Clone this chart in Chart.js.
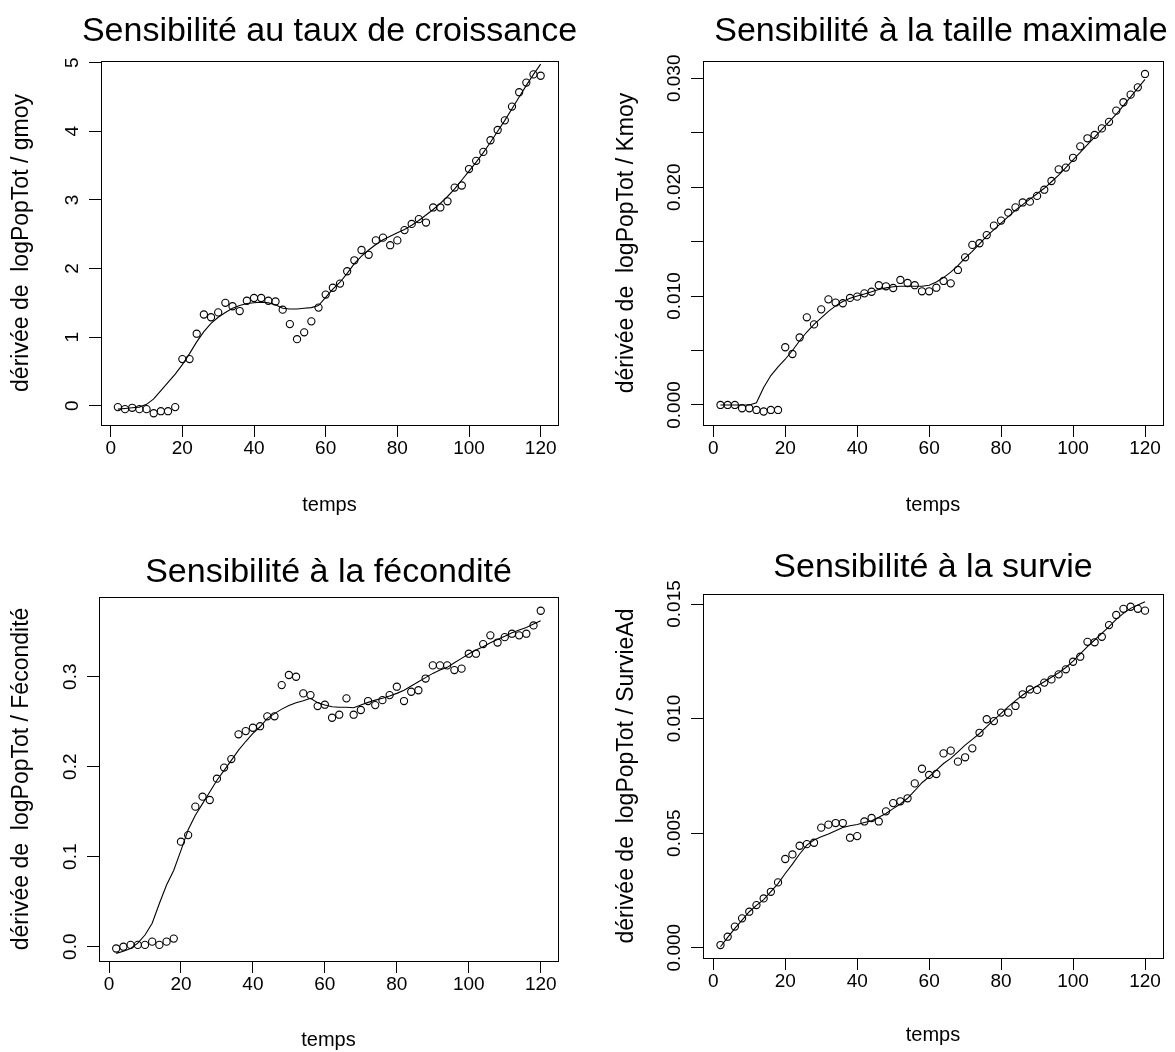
<!DOCTYPE html>
<html><head><meta charset="utf-8">
<script src="https://cdn.jsdelivr.net/npm/chart.js@4/dist/chart.umd.min.js"></script>
<style>
html,body{margin:0;padding:0;background:#fff;}
body{width:1175px;height:1052px;position:relative;overflow:hidden;}
canvas{position:absolute;}
</style></head>
<body>
<canvas id="c1"></canvas><canvas id="c2"></canvas><canvas id="c3"></canvas><canvas id="c4"></canvas>
<script>
// ---------- DATA ----------
const temps = [2,4,6,8,10,12,14,16,18,20,22,24,26,28,30,32,34,36,38,40,42,44,46,48,50,52,54,56,58,60,
  62,64,66,68,70,72,74,76,78,80,82,84,86,88,90,92,94,96,98,100,102,104,106,108,110,112,114,116,118,120];
const xTickValues = [0,20,40,60,80,100,120];
const xTickLabels = ['0','20','40','60','80','100','120'];

const gmoyPoints = [-0.02,-0.05,-0.03,-0.05,-0.05,-0.11,-0.08,-0.08,-0.02,
  0.68,0.68,1.05,1.33,1.29,1.36,1.50,1.45,1.38,1.53,1.57,1.57,1.53,1.52,1.40,1.19,0.97,1.07,1.23,1.43,1.62,
  1.72,1.78,1.96,2.12,2.27,2.20,2.41,2.45,2.34,2.41,2.56,2.65,2.72,2.67,2.89,2.89,2.98,3.18,3.21,3.45,
  3.57,3.70,3.87,4.02,4.16,4.36,4.57,4.71,4.83,4.81];
const gmoyLoess = [-0.05,-0.04,-0.03,-0.02,0.02,0.10,0.22,0.34,0.46,
  0.60,0.76,0.93,1.08,1.20,1.29,1.36,1.42,1.46,1.49,1.50,1.51,1.50,1.47,1.42,1.41,1.41,1.42,1.43,1.46,1.58,
  1.70,1.80,1.93,2.07,2.18,2.27,2.35,2.42,2.47,2.52,2.57,2.63,2.70,2.78,2.86,2.95,3.05,3.16,3.29,3.42,
  3.55,3.69,3.84,4.00,4.16,4.33,4.50,4.67,4.83,4.98];
const gmoyTickValues = [0,1,2,3,4,5];
const gmoyTickLabels = ['0','1','2','3','4','5'];

const kmoyPoints = [0.0000,0.0000,0.0000,-0.0003,-0.0003,-0.00046,-0.0006,-0.00046,-0.00046,
  0.0053,0.00468,0.0062,0.00805,0.0074,0.00878,0.0097,0.0094,0.00934,0.00983,0.00995,0.01025,0.0104,0.0110,0.0109,0.01074,0.01148,0.0112,0.0110,0.01044,0.01044,
  0.01077,0.01139,0.01117,0.0124,0.01356,0.0147,0.01485,0.0156,0.01647,0.01693,0.01766,0.01815,0.0186,0.01867,0.0192,0.01977,0.02057,0.02164,0.0218,0.0227,
  0.02375,0.02449,0.0248,0.0254,0.0260,0.02703,0.0278,0.0285,0.02917,0.0304];
const kmoyLoess = [0,0,0,0,0,0.0002,0.0016,0.0027,0.0035,
  0.0042,0.0050,0.0059,0.0067,0.0074,0.0080,0.0086,0.0091,0.0095,0.0098,0.0100,0.0102,0.0104,0.0106,0.01075,0.01085,0.0109,0.0109,0.0109,0.0109,0.0110,
  0.0113,0.0117,0.0122,0.0128,0.0135,0.0141,0.0148,0.0155,0.0161,0.0167,0.0173,0.0179,0.0184,0.0189,0.0194,0.0199,0.0205,0.0211,0.0218,0.0225,
  0.0232,0.0239,0.0246,0.0253,0.0260,0.0267,0.0275,0.0283,0.0291,0.0299];
const kmoyTickValues = [0,0.005,0.010,0.015,0.020,0.025,0.030];
const kmoyTickLabels = ['0.000','','0.010','','0.020','','0.030'];

const fecPoints = [-0.002,0.000,0.002,0.002,0.002,0.0056,0.002,0.0056,0.009,
  0.1167,0.124,0.1556,0.1667,0.163,0.1867,0.199,0.2085,0.236,0.2396,0.2433,0.245,0.256,0.256,0.2907,0.3019,0.300,0.2815,0.2796,0.2674,0.2689,
  0.2544,0.2578,0.276,0.2578,0.263,0.273,0.2685,0.274,0.2796,0.2889,0.273,0.2833,0.285,0.298,0.3126,0.3126,0.3126,0.3074,0.309,0.3256,
  0.3256,0.3363,0.346,0.338,0.344,0.3478,0.346,0.3478,0.357,0.3733];
const fecLoess = [-0.0074,-0.005,-0.002,0.004,0.013,0.026,0.048,0.0685,0.085,
  0.107,0.13,0.146,0.159,0.172,0.185,0.196,0.207,0.2185,0.228,0.237,0.2444,0.2537,0.259,0.264,0.268,0.271,0.2733,0.276,0.271,0.2685,
  0.2667,0.266,0.266,0.2655,0.2685,0.2715,0.274,0.276,0.2785,0.2815,0.285,0.2896,0.2944,0.299,0.3037,0.3074,0.3104,0.3156,0.3204,0.3252,
  0.3296,0.3333,0.3378,0.3415,0.345,0.349,0.352,0.3548,0.3585,0.3622];
const fecTickValues = [0,0.1,0.2,0.3];
const fecTickLabels = ['0.0','0.1','0.2','0.3'];

const survPoints = [0.000116,0.00048,0.00092,0.00128,0.00157,0.00186,0.00215,0.00244,0.00285,
  0.00387,0.00407,0.00445,0.00452,0.00458,0.00524,0.00537,0.00544,0.00544,0.00480,0.00487,0.00551,0.00566,0.00551,0.00595,0.00631,0.00639,0.00652,0.00717,0.00781,0.00754,
  0.00758,0.00848,0.0086,0.00812,0.00831,0.0087,0.00938,0.00997,0.00989,0.01026,0.01026,0.01055,0.01106,0.01127,0.01125,0.01157,0.01171,0.01193,0.01215,0.01248,
  0.0127,0.01335,0.01333,0.01357,0.01408,0.01452,0.01479,0.01488,0.01479,0.01471];
const survLoess = [0.00004,0.00045,0.00084,0.0012,0.00157,0.00185,0.0021,0.00245,0.0028,
  0.00324,0.00365,0.00409,0.00448,0.0047,0.00484,0.00496,0.0051,0.00525,0.00532,0.00538,0.00546,0.00554,0.00569,0.00586,0.00607,0.00627,0.00652,0.00685,0.0072,0.00746,
  0.00775,0.00804,0.00826,0.00855,0.00884,0.00909,0.00935,0.00965,0.00994,0.01023,0.01052,0.01078,0.01103,0.01125,0.01142,0.01161,0.0118,0.0120,0.01223,0.01251,
  0.01282,0.01314,0.01343,0.01372,0.01401,0.01433,0.01459,0.01481,0.01496,0.0151];
const survTickValues = [0,0.005,0.010,0.015];
const survTickLabels = ['0.000','0.005','0.010','0.015'];

const titles = ['Sensibilité au taux de croissance','Sensibilité à la taille maximale','Sensibilité à la fécondité','Sensibilité à la survie'];
const yLabels = ['dérivée de  logPopTot / gmoy','dérivée de  logPopTot / Kmoy','dérivée de  logPopTot / Fécondité','dérivée de  logPopTot / SurvieAd'];
const xLabel = 'temps';

// ---------- LAYOUT ----------
const FONT = "'Liberation Sans', Arial, Helvetica, sans-serif";
const TICK_SIZE = 19, XLAB_SIZE = 20, YLAB_SIZE = 23, TITLE_SIZE = 34;
const panels = [
  {id:'c1', cx:0,   cy:0,   w:587, h:526, box:{l:101,t:61,r:558,b:425}, xmin:-2.71, xmax:124.84, ymin:-0.281, ymax:5.025,
   pts:gmoyPoints, fit:gmoyLoess, yt:gmoyTickValues, yl:gmoyTickLabels, titleY:41, titleDX:0, xtPad:9, ytX:22},
  {id:'c2', cx:587, cy:0,   w:588, h:526, box:{l:116,t:61,r:576,b:425}, xmin:-2.86, xmax:125.0, ymin:-0.00184, ymax:0.03159,
   pts:kmoyPoints, fit:kmoyLoess, yt:kmoyTickValues, yl:kmoyTickLabels, titleY:41, titleDX:8, xtPad:9, ytX:40},
  {id:'c3', cx:0,   cy:526, w:587, h:526, box:{l:99,t:71,r:558,b:435}, xmin:-2.78, xmax:124.8, ymin:-0.0159, ymax:0.3886,
   pts:fecPoints, fit:fecLoess, yt:fecTickValues, yl:fecTickLabels, titleY:56, titleDX:0, xtPad:0, ytX:22},
  {id:'c4', cx:587, cy:526, w:588, h:526, box:{l:116,t:68,r:576,b:432}, xmin:-2.86, xmax:125.0, ymin:-0.00045, ymax:0.015437,
   pts:survPoints, fit:survLoess, yt:survTickValues, yl:survTickLabels, titleY:51, titleDX:0, xtPad:5, ytX:40}
];

const mctx = document.createElement('canvas').getContext('2d');
mctx.font = TICK_SIZE + 'px ' + FONT;
function widest(labels){ return Math.max(...labels.map(s => mctx.measureText(s).width)); }

const boxPlugin = {
  id:'rbox',
  afterDraw(chart){
    const a = chart.chartArea, c = chart.ctx;
    c.save(); c.strokeStyle='#000'; c.lineWidth=1;
    c.strokeRect(Math.round(a.left)+0.5, Math.round(a.top)+0.5, Math.round(a.right-a.left), Math.round(a.bottom-a.top));
    c.restore();
  }
};

panels.forEach((P, k) => {
  const cv = document.getElementById(P.id);
  cv.width = P.w; cv.height = P.h;
  cv.style.left = P.cx + 'px'; cv.style.top = P.cy + 'px';
  cv.style.width = P.w + 'px'; cv.style.height = P.h + 'px';
  const tickLen = 12;
  const ypad = 28 - tickLen - widest(P.yl)/2;
  const titlePlugin = {
    id:'rtitle'+k,
    afterDraw(chart){
      const a = chart.chartArea, c = chart.ctx;
      c.save(); c.fillStyle='#000'; c.font = TITLE_SIZE + 'px ' + FONT;
      c.textAlign='center'; c.textBaseline='alphabetic';
      c.fillText(titles[k], (a.left+a.right)/2 + P.titleDX, P.titleY);
      c.restore();
    }
  };
  new Chart(cv, {
    type:'scatter',
    data:{ datasets:[
      { data: temps.map((t,i)=>({x:t, y:P.pts[i]})), showLine:false, pointRadius:3.6, pointHoverRadius:3.6,
        pointBorderWidth:1.1, borderColor:'#000', backgroundColor:'rgba(0,0,0,0)', pointStyle:'circle' },
      { data: temps.map((t,i)=>({x:t, y:P.fit[i]})), showLine:true, pointRadius:0, borderColor:'#000',
        borderWidth:1.1, tension:0, fill:false }
    ]},
    options:{
      responsive:false, animation:false, events:[], devicePixelRatio:1,
      layout:{ padding:{ left:0, top:P.box.t, right:P.w-P.box.r, bottom:0 } },
      plugins:{ legend:{display:false}, tooltip:{enabled:false}, title:{display:false} },
      scales:{
        x:{ type:'linear', position:'bottom', min:P.xmin, max:P.xmax,
          afterBuildTicks: s => { s.ticks = xTickValues.map(v=>({value:v})); },
          afterFit: s => { s.height = P.h - P.box.b; },
          ticks:{ autoSkip:false, maxRotation:0, minRotation:0, padding:0, color:'#000',
            font:{family:FONT, size:TICK_SIZE}, callback:(v,i)=>xTickLabels[i] },
          grid:{ drawOnChartArea:false, drawTicks:true, tickLength:tickLen, color:'#000', lineWidth:1 },
          border:{ display:false },
          title:{ display:true, text:xLabel, color:'#000', font:{family:FONT, size:XLAB_SIZE}, padding:{top:0, bottom:P.xtPad} }
        },
        y:{ type:'linear', position:'left', min:P.ymin, max:P.ymax,
          afterBuildTicks: s => { s.ticks = P.yt.map(v=>({value:v})); },
          afterFit: s => { s.width = P.box.l; },
          ticks:{ autoSkip:false, minRotation:90, maxRotation:90, crossAlign:'center', padding:ypad, color:'#000',
            font:{family:FONT, size:TICK_SIZE}, callback:(v,i)=>P.yl[i] },
          grid:{ drawOnChartArea:false, drawTicks:true, tickLength:tickLen, color:'#000', lineWidth:1 },
          border:{ display:false },
          title:{ display:true, text:yLabels[k], color:'#000', font:{family:FONT, size:YLAB_SIZE},
            padding:{top:P.ytX - YLAB_SIZE*1.2/2, bottom:0} }
        }
      }
    },
    plugins:[boxPlugin, titlePlugin]
  });
});
</script>
</body></html>
